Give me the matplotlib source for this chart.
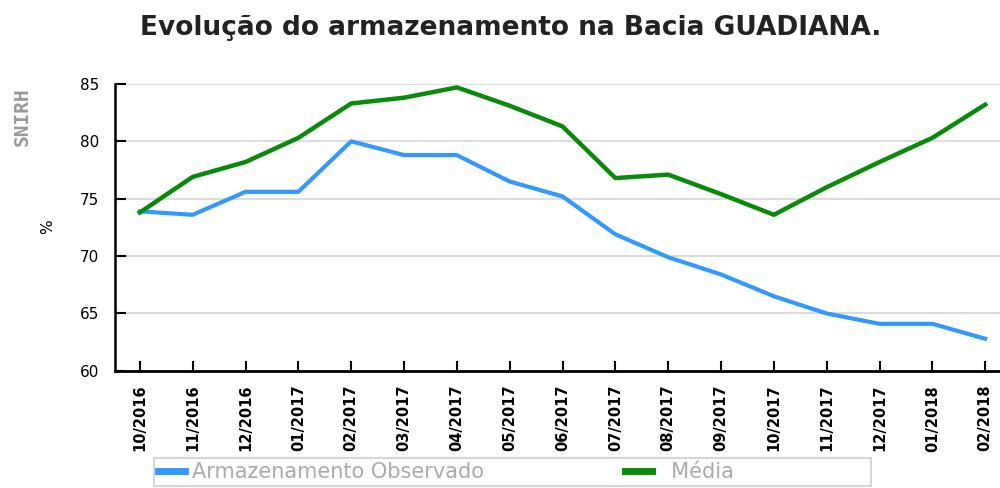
import matplotlib.pyplot as plt
from matplotlib.lines import Line2D

# dados
meses = ['10/2016', '11/2016', '12/2016', '01/2017', '02/2017', '03/2017',
         '04/2017', '05/2017', '06/2017', '07/2017', '08/2017', '09/2017',
         '10/2017', '11/2017', '12/2017', '01/2018', '02/2018']
observado = [73.9, 73.6, 75.6, 75.6, 80.0, 78.8, 78.8, 76.5, 75.2, 71.9,
             69.9, 68.4, 66.5, 65.0, 64.1, 64.1, 62.8]
media = [73.8, 76.9, 78.2, 80.3, 83.3, 83.8, 84.7, 83.1, 81.3, 76.8,
         77.1, 75.4, 73.6, 76.0, 78.2, 80.3, 83.2]

cor_obs = '#3399ff'
cor_med = '#0a8a0a'

fig = plt.figure(figsize=(10, 4.88), dpi=100)
ax = fig.add_axes([0.115, 0.240, 0.885, 0.588])

x = range(len(meses))
ax.plot(x, observado, color=cor_obs, lw=3, solid_joinstyle='round', zorder=3)
ax.plot(x, media, color=cor_med, lw=3.2, solid_joinstyle='round', zorder=3)

ax.set_xlim(-0.47, 16.28)
ax.set_ylim(60, 85)
ax.set_yticks([60, 65, 70, 75, 80, 85])
ax.set_xticks(list(x))
ax.set_xticklabels(meses, rotation=90, fontsize=10.5, fontweight='bold')
for t in ax.get_yticklabels():
    t.set_fontsize(11)

ax.tick_params(axis='y', direction='in', length=8, width=1.5, pad=11.5)
ax.tick_params(axis='x', direction='in', length=7, width=1.5, pad=10)
ax.grid(axis='y', color='#dddddd', lw=1.5, zorder=0)
ax.set_axisbelow(True)
for s in ['top', 'right']:
    ax.spines[s].set_visible(False)
ax.spines['left'].set_linewidth(1.8)
ax.spines['bottom'].set_linewidth(2)

fig.text(0.511, 0.942, 'Evolução do armazenamento na Bacia GUADIANA.',
         ha='center', va='center', fontsize=19, fontweight='bold', color='#222222')
fig.text(0.022, 0.76, 'SNIRH', rotation=90, ha='center', va='center',
         fontsize=14, fontweight='bold', color='#999999', family='DejaVu Sans Mono')
fig.text(0.048, 0.535, '%', rotation=90, ha='center', va='center', fontsize=11)

# legenda em baixo, como no original
handles = [Line2D([], [], color=cor_obs, lw=5), Line2D([], [], color=cor_med, lw=5)]
leg = fig.legend(handles, ['Armazenamento Observado', '  Média' + ' ' * 20], ncol=2,
                 loc='upper left', bbox_to_anchor=(0.154, 1 - 458 / 488),
                 borderaxespad=0, frameon=True, fancybox=False, handlelength=1.3,
                 handletextpad=0.3, columnspacing=6.8, fontsize=15, borderpad=0.2)
leg.get_frame().set_edgecolor('#cccccc')
leg.get_frame().set_linewidth(1.5)
for t in leg.get_texts():
    t.set_color('#aaaaaa')

fig.savefig('out.png', dpi=100)
